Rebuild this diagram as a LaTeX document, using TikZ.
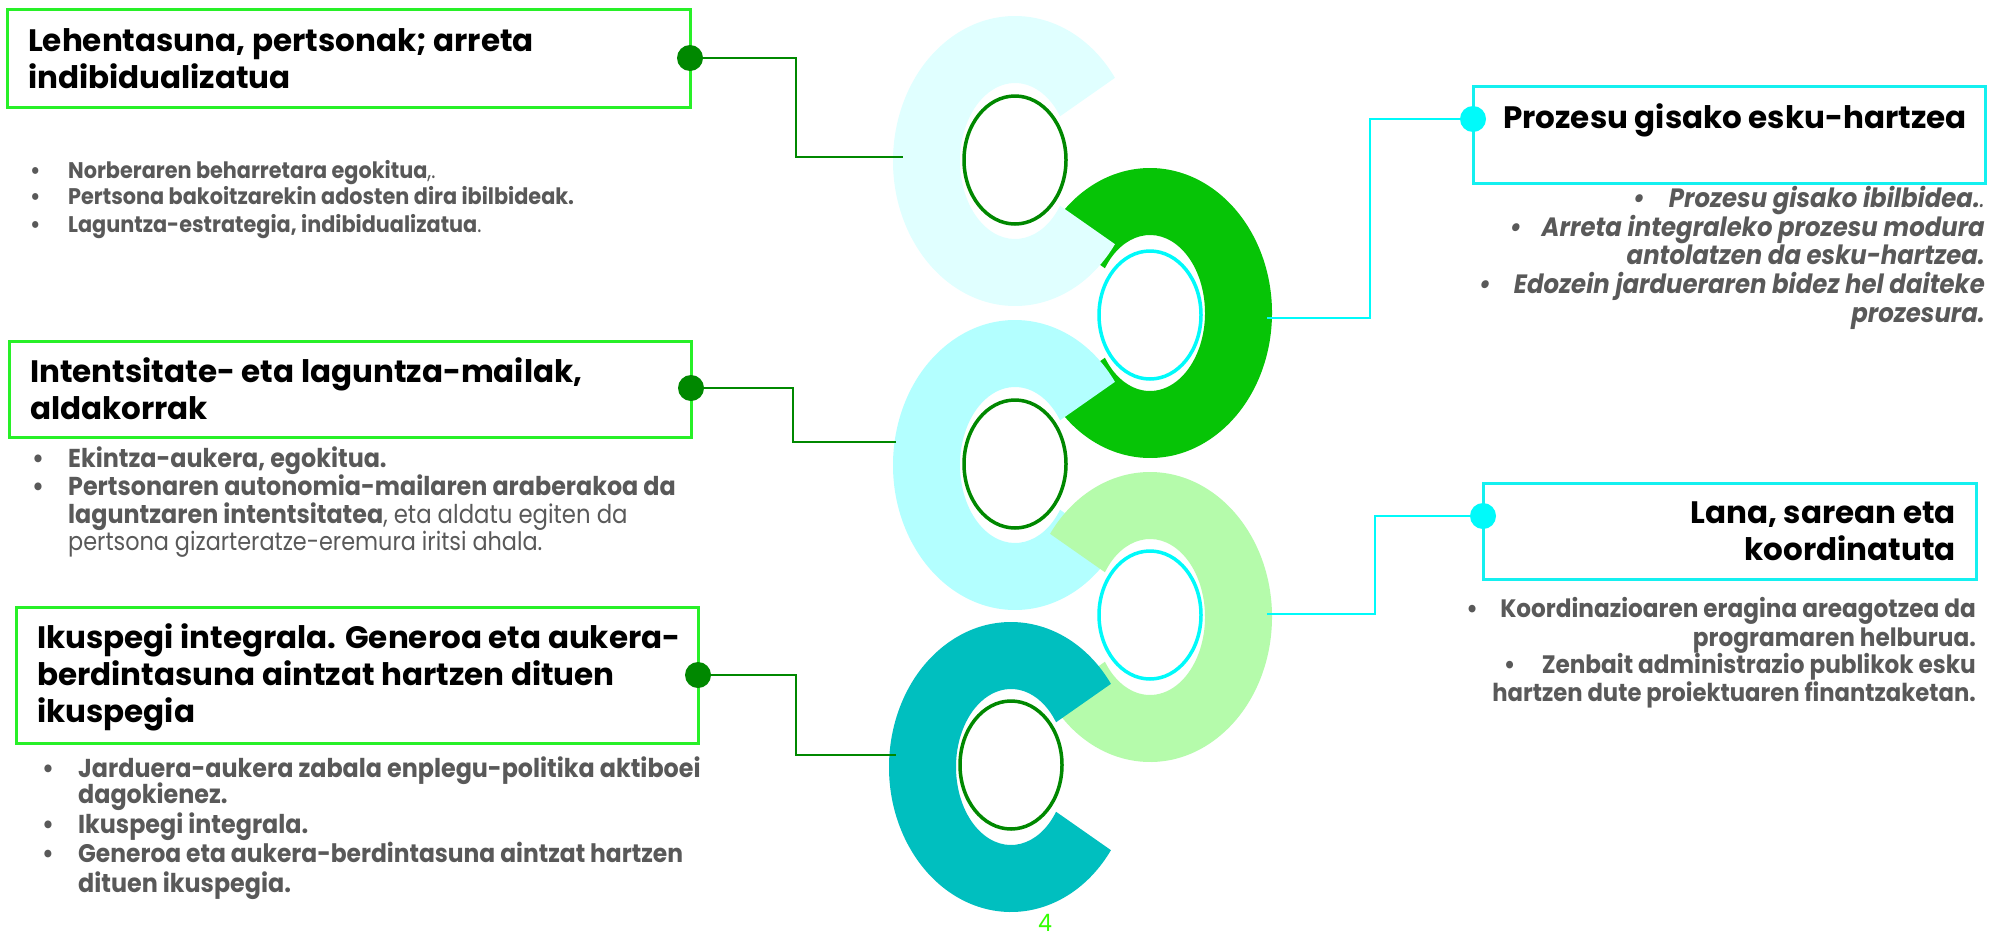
\documentclass[tikz,border=0pt]{standalone}
\usepackage{fontspec}
\usetikzlibrary{calc,fit}
\newfontfamily\tfont{Poppins}
\newfontfamily\bfont{Poppins}[FakeStretch=0.92]
\newfontfamily\rfont{Poppins}[FakeStretch=0.88]
\definecolor{boxgreen}{RGB}{40,240,40}
\definecolor{boxcyan}{RGB}{20,240,240}
\definecolor{dkgreen}{RGB}{0,136,0}
\definecolor{cyanl}{RGB}{0,250,250}
\definecolor{clightA}{RGB}{224,255,255}
\definecolor{cgreen}{RGB}{6,196,6}
\definecolor{clightB}{RGB}{179,255,255}
\definecolor{cpale}{RGB}{181,251,171}
\definecolor{cteal}{RGB}{0,191,191}
\definecolor{txtgray}{RGB}{89,89,89}
\definecolor{pgnum}{RGB}{51,255,0}
\newcommand\cring[4]{%
  \fill[#4] ($(#1)+(#2:122pt and 145pt)$) arc[start angle=#2, end angle=#3, x radius=122pt, y radius=145pt]
    -- ($(#1)+(#3:55pt and 78pt)$) arc[start angle=#3, end angle=#2, x radius=55pt, y radius=78pt] -- cycle;}
\newcommand\reg[1]{{\rfont\mdseries #1}}
\tikzset{
  boxg/.style={draw=boxgreen, line width=3pt, inner sep=0pt},
  boxc/.style={draw=boxcyan, line width=3pt, inner sep=0pt},
  conng/.style={draw=dkgreen, line width=2.5pt},
  connc/.style={draw=cyanl, line width=2.5pt},
  dotg/.style={circle, fill=dkgreen, minimum size=26pt, inner sep=0pt},
  dotc/.style={circle, fill=cyanl, minimum size=26pt, inner sep=0pt},
  ringg/.style={draw=dkgreen, line width=3.5pt},
  ringc/.style={draw=cyanl, line width=3.5pt},
  ttl/.style={font=\tfont\bfseries\fontsize{31}{37}\selectfont, inner sep=0pt, anchor=base west},
  ttr/.style={ttl, anchor=base east},
  bt/.style={font=\bfont\bfseries\fontsize{#1}{26}\selectfont, text=txtgray, inner sep=0pt, anchor=base west},
  btr/.style={bt=#1, anchor=base east},
  btir/.style={btr=#1, font=\bfont\bfseries\itshape\fontsize{#1}{26}\selectfont},
}
\begin{document}
\begin{tikzpicture}[x=1pt,y=-1pt]
\useasboundingbox (0,0) rectangle (1990,935);
\fill[white] (0,0) rectangle (1990,935);
% ring centres
\coordinate (c1) at (1015,161);
\coordinate (c2) at (1150,313);
\coordinate (c3) at (1015,465);
\coordinate (c4) at (1150,617);
\coordinate (c5) at (1011,767);
\cring{c2}{-145}{145}{cgreen}
\cring{c1}{35}{325}{clightA}
\cring{c3}{35}{325}{clightB}
\cring{c4}{-145}{145}{cpale}
\cring{c5}{35}{325}{cteal}
\draw[ringg] (1015,160) ellipse[x radius=51pt, y radius=64pt];
\draw[ringc] (1150,315) ellipse[x radius=51pt, y radius=64pt];
\draw[ringg] (1015,464) ellipse[x radius=51pt, y radius=64pt];
\draw[ringc] (1150,615) ellipse[x radius=51pt, y radius=64pt];
\draw[ringg] (1011,765) ellipse[x radius=51pt, y radius=64pt];
% boxes
\node[boxg, fit={(7,9) (690,107)}] (b1) {};
\node[boxg, fit={(9,341) (691,437)}] (b2) {};
\node[boxg, fit={(16,607) (698,743)}] (b3) {};
\node[boxc, fit={(1473,86) (1985,183)}] (b4) {};
\node[boxc, fit={(1483,483) (1976,579)}] (b5) {};
% connector ends
\coordinate (k1) at (796,157);  \coordinate (e1) at (903,157);
\coordinate (k2) at (793,442);  \coordinate (e2) at (896,442);
\coordinate (k3) at (796,755);  \coordinate (e3) at (896,755);
\coordinate (k4) at (1370,318); \coordinate (e4) at (1267,318);
\coordinate (k5) at (1375,614); \coordinate (e5) at (1267,614);
% dots
\node[dotg] (d1) at (690,58) {};
\node[dotg] (d2) at (691,388) {};
\node[dotg] (d3) at (698,675) {};
\node[dotc] (d4) at (1473,119) {};
\node[dotc] (d5) at (1483,516) {};
\draw[conng] (d1.center) -| (k1) -- (e1);
\draw[conng] (d2.center) -| (k2) -- (e2);
\draw[conng] (d3.center) -| (k3) -- (e3);
\draw[connc] (d4.center) -| (k4) -- (e4);
\draw[connc] (d5.center) -| (k5) -- (e5);
% titles
\node[ttl] (t1a) at (28,51) {Lehentasuna, pertsonak; arreta};
\node[ttl] (t1b) at (28,88) {indibidualizatua};
\node[ttl] (t2a) at (30,382) {Intentsitate- eta laguntza-mailak,};
\node[ttl] (t2b) at (30,419) {aldakorrak};
\node[ttl] (t3a) at (37,648) {Ikuspegi integrala. Generoa eta aukera-};
\node[ttl] (t3b) at (37,685) {berdintasuna aintzat hartzen dituen};
\node[ttl] (t3c) at (37,722) {ikuspegia};
\node[ttl] (t4a) at (1503,128) {Prozesu gisako esku-hartzea};
\node[ttr] (t5a) at (1956,523) {Lana, sarean eta};
\node[ttr] (t5b) at (1956,560) {koordinatuta};
% left bullets
\node[bt=22.6] (l1a) at (30,178) {\makebox[38pt][l]{•}Norberaren beharretara egokitua\reg{,.}};
\node[bt=22.6] (l1b) at (30,204) {\makebox[38pt][l]{•}Pertsona bakoitzarekin adosten dira ibilbideak.};
\node[bt=22.6] (l1c) at (30,232) {\makebox[38pt][l]{•}Laguntza-estrategia, indibidualizatua\reg{.}};
\node[bt=25.9] (l2a) at (32,467) {\makebox[36pt][l]{•}Ekintza-aukera, egokitua.};
\node[bt=25.9] (l2b) at (32,495) {\makebox[36pt][l]{•}Pertsonaren autonomia-mailaren araberakoa da};
\node[bt=25.9] (l2c) at (68,523) {laguntzaren intentsitatea\reg{, eta aldatu egiten da}};
\node[bt=25.4] (l2d) at (68,550) {\reg{pertsona gizarteratze-eremura iritsi ahala.}};
\node[bt=25.9] (l3a) at (42,777) {\makebox[36pt][l]{•}Jarduera-aukera zabala enplegu-politika aktiboei};
\node[bt=25.9] (l3b) at (78,803) {dagokienez.};
\node[bt=25.9] (l3c) at (42,833) {\makebox[36pt][l]{•}Ikuspegi integrala.};
\node[bt=25.4] (l3d) at (42,862) {\makebox[36pt][l]{•}Generoa eta aukera-berdintasuna aintzat hartzen};
\node[bt=25.9] (l3e) at (78,892) {dituen ikuspegia.};
% right bullets
\node[btir=26.5] (r4a) at (1985,207) {\makebox[36pt][l]{•}Prozesu gisako ibilbidea.\reg{.}};
\node[btir=26.5] (r4b) at (1985,236) {\makebox[32pt][l]{•}Arreta integraleko prozesu modura};
\node[btir=26.5] (r4c) at (1985,264) {antolatzen da esku-hartzea.};
\node[btir=26.5] (r4d) at (1985,293) {\makebox[35pt][l]{•}Edozein jardueraren bidez hel daiteke};
\node[btir=26.5] (r4e) at (1985,322) {prozesura.};
\node[btr=25.2] (r5a) at (1976,617) {\makebox[34pt][l]{•}Koordinazioaren eragina areagotzea da};
\node[btr=25.2] (r5b) at (1976,646) {programaren helburua.};
\node[btr=25.2] (r5c) at (1976,673) {\makebox[38pt][l]{•}Zenbait administrazio publikok esku};
\node[btr=24.7] (r5d) at (1976,701) {hartzen dute proiektuaren finantzaketan.};
% page number
\node[font=\bfont\fontsize{24}{28}\selectfont, text=pgnum, inner sep=0pt, anchor=base] (pg) at (1045,931) {4};
\end{tikzpicture}
\end{document}
